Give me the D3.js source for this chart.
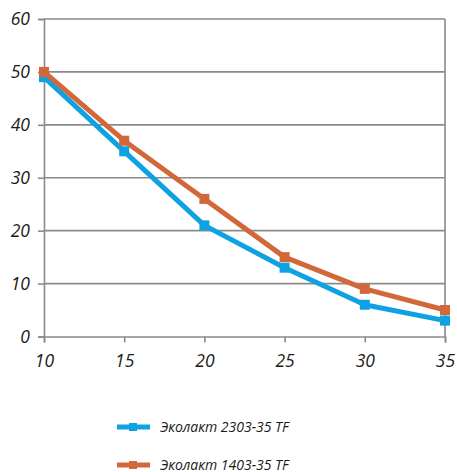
<!DOCTYPE html>
<html>
<head>
<meta charset="utf-8">
<script src="https://cdn.jsdelivr.net/npm/d3@7"></script>
<style>
  html, body { margin: 0; padding: 0; background: #fff; }
  svg { display: block; }
  text { font-family: "Open Sans", "DejaVu Sans", sans-serif; font-style: italic; fill: #1a1a1a; }
</style>
</head>
<body>
<svg id="chart" width="457" height="472"></svg>
<script>
const xValues = [10, 15, 20, 25, 30, 35];
const yTicks = [0, 10, 20, 30, 40, 50, 60];
const seriesNames = ["Эколакт 2303-35 TF", "Эколакт 1403-35 TF"];
const series2303 = [49, 35, 21, 13, 6, 3];
const series1403 = [50, 37, 26, 15, 9, 5];
const seriesColors = ["#0ea2e2", "#d2683a"];

const svg = d3.select("#chart");
const plotLeft = 44, plotRight = 445, plotTop = 19, plotBottom = 336.5;

const x = d3.scaleLinear().domain([10, 35]).range([plotLeft, plotRight]);
const y = d3.scaleLinear().domain([0, 60]).range([plotBottom, plotTop]);

// horizontal gridlines
svg.append("g")
  .selectAll("line")
  .data(yTicks.filter(d => d > 0))
  .join("line")
  .attr("x1", plotLeft).attr("x2", plotRight)
  .attr("y1", d => y(d)).attr("y2", d => y(d))
  .attr("stroke", "#8a8a8a").attr("stroke-width", 1.6);

// right border of plot
svg.append("line")
  .attr("x1", plotRight).attr("x2", plotRight)
  .attr("y1", plotTop).attr("y2", plotBottom)
  .attr("stroke", "#8a8a8a").attr("stroke-width", 1.6);

// y axis
const yAxis = svg.append("g")
  .attr("transform", `translate(${plotLeft},0)`)
  .call(d3.axisLeft(y).tickValues(yTicks).tickSize(6).tickPadding(8).tickFormat(d3.format("d")));
yAxis.select(".domain").attr("stroke", "#8a8a8a").attr("stroke-width", 1.6);
yAxis.selectAll(".tick line").attr("stroke", "#8a8a8a").attr("stroke-width", 1.6);
yAxis.selectAll(".tick text").style("font-size", "17.5px").attr("fill", "#1a1a1a");

// x axis
const xAxis = svg.append("g")
  .attr("transform", `translate(0,${plotBottom})`)
  .call(d3.axisBottom(x).tickValues(xValues).tickSize(6).tickPadding(12).tickFormat(d3.format("d")));
xAxis.select(".domain").attr("stroke", "#8a8a8a").attr("stroke-width", 1.6);
xAxis.selectAll(".tick line").attr("stroke", "#8a8a8a").attr("stroke-width", 1.6);
xAxis.selectAll(".tick text").style("font-size", "17.5px").attr("fill", "#1a1a1a");

// series
const data = [series2303, series1403];
const line = d3.line().x((d, i) => x(xValues[i])).y(d => y(d));
const ms = 10;

data.forEach((vals, k) => {
  const g = svg.append("g");
  g.append("path")
    .datum(vals)
    .attr("d", line)
    .attr("fill", "none")
    .attr("stroke", seriesColors[k])
    .attr("stroke-width", 5)
    .attr("stroke-linejoin", "round");
  g.selectAll("rect")
    .data(vals)
    .join("rect")
    .attr("x", (d, i) => x(xValues[i]) - ms / 2)
    .attr("y", d => y(d) - ms / 2)
    .attr("width", ms).attr("height", ms)
    .attr("fill", seriesColors[k]);
});

// legend
const legend = svg.append("g");
seriesNames.forEach((name, k) => {
  const ly = 427 + k * 38;
  legend.append("line")
    .attr("x1", 117).attr("x2", 150)
    .attr("y1", ly).attr("y2", ly)
    .attr("stroke", seriesColors[k]).attr("stroke-width", 5);
  legend.append("rect")
    .attr("x", 129).attr("y", ly - 4).attr("width", 8).attr("height", 8)
    .attr("fill", seriesColors[k]);
  legend.append("text")
    .attr("x", 160).attr("y", ly + 5)
    .style("font-size", "14px")
    .text(name);
});
</script>
</body>
</html>
